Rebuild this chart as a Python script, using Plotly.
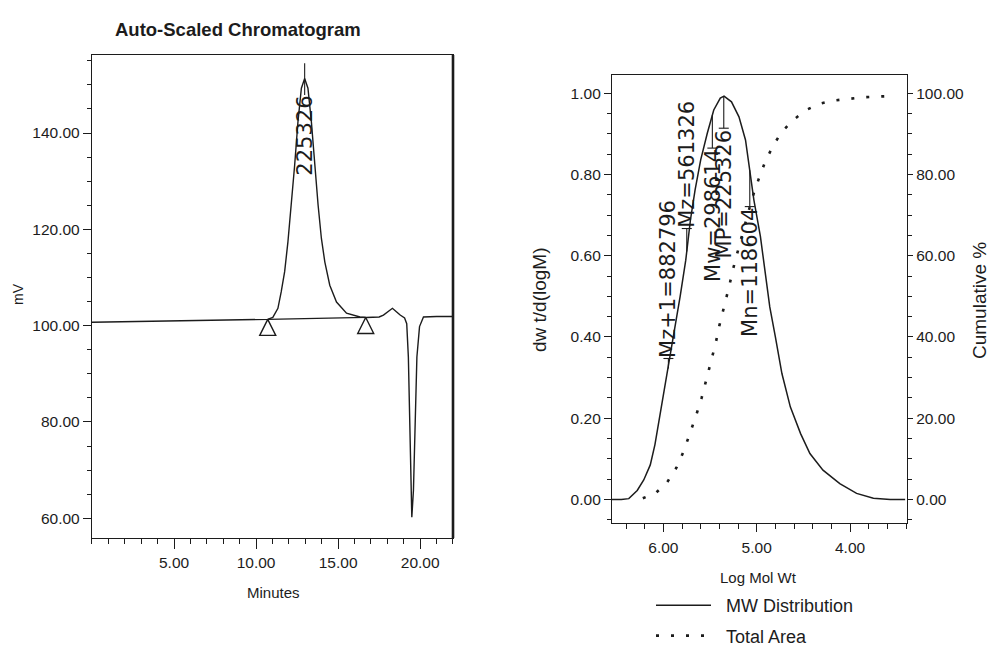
import numpy as np
import plotly.graph_objects as go

# ---------------- data: chromatogram ----------------
chrom_time = [0.0, 2.0, 4.0, 6.0, 8.0, 10.0, 10.7, 11.02, 11.33, 11.53, 11.74, 11.94,
              12.15, 12.35, 12.55, 12.76, 12.96, 13.16, 13.37, 13.57, 13.78, 13.98,
              14.19, 14.49, 14.90, 15.51, 16.33, 16.7, 17.5, 17.76, 18.05, 18.31,
              18.55, 18.78, 19.05, 19.18, 19.28, 19.35, 19.43, 19.49, 19.59, 19.70,
              19.80, 19.96, 20.20, 21.0, 22.0]
chrom_mv = [100.7, 100.8, 100.9, 101.0, 101.1, 101.2, 101.3, 101.7, 103.6, 107.0, 111.2, 117.4,
            125.0, 133.3, 142.3, 149.3, 151.3, 149.3, 142.3, 133.3, 125.0, 118.1,
            113.2, 108.4, 104.9, 102.6, 101.8, 101.7, 101.8, 102.2, 102.9, 103.6,
            102.9, 102.2, 101.6, 100.4, 93.5, 79.7, 65.8, 60.2, 65.8, 79.7,
            93.5, 99.8, 101.8, 101.9, 101.9]
peak_bounds_time = [10.71, 16.68]
peak_bounds_mv = [101.3, 101.7]
peak_label = "225326"
peak_label_top_mv = 147.9
peak_line_top_mv = 154.5
chrom_xticks = [5, 10, 15, 20]
chrom_yticks = [60, 80, 100, 120, 140]

# ---------------- data: MW distribution ----------------
dist_logm = [6.57, 6.45, 6.37, 6.28, 6.21, 6.14, 6.09, 6.05, 6.00, 5.94, 5.88, 5.82,
             5.76, 5.71, 5.66, 5.60, 5.53, 5.46, 5.39, 5.35, 5.27, 5.19, 5.12, 5.08,
             5.03, 4.96, 4.91, 4.86, 4.80, 4.73, 4.64, 4.53, 4.43, 4.29, 4.11, 3.93,
             3.75, 3.57, 3.41]
dist_dwdlogm = [0.0, 0.0, 0.002, 0.022, 0.048, 0.085, 0.135, 0.19, 0.25, 0.33, 0.415, 0.50,
                0.589, 0.688, 0.762, 0.836, 0.901, 0.959, 0.988, 0.993, 0.979, 0.942, 0.885, 0.82,
                0.737, 0.647, 0.557, 0.474, 0.40, 0.31, 0.228, 0.162, 0.113, 0.072, 0.039, 0.015,
                0.003, 0.0, 0.0]
cum_logm = [6.22, 6.08, 5.96, 5.86, 5.78, 5.71, 5.65, 5.59, 5.54, 5.49, 5.44, 5.40,
            5.35, 5.30, 5.25, 5.20, 5.14, 5.08, 5.03, 4.98, 4.91, 4.82, 4.73, 4.61,
            4.47, 4.33, 4.18, 4.02, 3.87, 3.71, 3.55]
cum_pct = [0.3, 1.6, 4.2, 7.8, 12.0, 16.4, 20.6, 25.0, 29.4, 34.0, 38.4, 42.8,
           47.2, 52.0, 57.0, 61.5, 66.5, 71.5, 75.5, 78.8, 83.1, 87.3, 90.5, 93.4,
           95.9, 97.4, 98.2, 98.6, 99.0, 99.2, 99.3]
mw_names = ["Mz+1", "Mz", "Mw", "MP", "Mn"]
mw_values = [882796, 561326, 298614, 225326, 118604]
mwd_xticks = [6, 5, 4]
mwd_yticks = [0.0, 0.2, 0.4, 0.6, 0.8, 1.0]
cum_yticks = [0, 20, 40, 60, 80, 100]
series_names = ["MW Distribution", "Total Area"]

# ---------------- styling ----------------
INK = "#1c1c1c"
SANS = "Liberation Sans, Arial, sans-serif"
LABELFONT = "DejaVu Sans, Liberation Sans, sans-serif"
NBSP = "\u00a0"
H = 655.0

# label layout on the MW plot: (end of text nearest the curve, which side of text)
label_text_end = [0.347, 0.667, 0.865, 0.914, 0.721]
label_anchor = ["bottom", "bottom", "top", "top", "top"]

fig = go.Figure()

# chromatogram
fig.add_trace(go.Scatter(x=chrom_time, y=chrom_mv, mode="lines",
                         line=dict(color=INK, width=1.4), xaxis="x", yaxis="y",
                         showlegend=False, hoverinfo="skip"))
fig.add_trace(go.Scatter(x=peak_bounds_time, y=peak_bounds_mv, mode="lines+markers",
                         line=dict(color=INK, width=1.2),
                         marker=dict(symbol="arrow-up-open", size=16, color=INK,
                                     line=dict(color=INK, width=1.4)),
                         xaxis="x", yaxis="y", showlegend=False, hoverinfo="skip"))

# MW distribution
fig.add_trace(go.Scatter(x=dist_logm, y=dist_dwdlogm, mode="lines",
                         name=NBSP * 2 + series_names[0], legendgroup="a",
                         line=dict(color=INK, width=1.5), xaxis="x2", yaxis="y2"))
fig.add_trace(go.Scatter(x=cum_logm, y=cum_pct, mode="lines",
                         name=NBSP * 2 + series_names[1], legendgroup="b",
                         line=dict(color="#1c1c1c", width=2.6, dash="3px,12px"),
                         xaxis="x2", yaxis="y3"))

axis_common = dict(showline=True, linecolor=INK, linewidth=1.3, ticks="outside",
                   tickwidth=1.2, tickcolor=INK, showgrid=False, zeroline=False,
                   tickfont=dict(family=SANS, size=15.5, color=INK), tickformat=".2f",
                   tickmode="array", automargin=False)

fig.update_layout(
    width=989, height=655, autosize=False, margin=dict(l=0, r=0, t=0, b=0, pad=0),
    paper_bgcolor="white", plot_bgcolor="white",
    xaxis=dict(axis_common, domain=[0.09302, 0.45804], range=[0, 22], anchor="y",
               tickvals=chrom_xticks, ticklen=10, mirror=True, ticklabelstandoff=0,
               minor=dict(dtick=1, tick0=0, ticks="outside", ticklen=5, tickcolor=INK)),
    yaxis=dict(axis_common, domain=[0.17863, 0.91603], range=[55.9, 156.2], anchor="x",
               tickvals=chrom_yticks, ticklen=8, mirror=True,
               minor=dict(dtick=5, tick0=0, ticks="outside", ticklen=4, tickcolor=INK)),
    xaxis2=dict(axis_common, domain=[0.61881, 0.91709], range=[6.55, 3.39], anchor="y2",
                tickvals=mwd_xticks, ticklen=8, mirror=True, ticklabelstandoff=2,
                minor=dict(dtick=0.2, tick0=0, ticks="outside", ticklen=5, tickcolor=INK)),
    yaxis2=dict(axis_common, domain=[0.20153, 0.88550], range=[-0.058, 1.045], anchor="x2",
                tickvals=mwd_yticks, ticklen=7, mirror=True,
                minor=dict(dtick=0.05, tick0=0, ticks="outside", ticklen=4, tickcolor=INK)),
    yaxis3=dict(axis_common, range=[-5.8, 104.5], anchor="x2", overlaying="y2", side="right",
                tickvals=cum_yticks, ticklen=5,
                minor=dict(dtick=5, tick0=0, ticks="outside", ticklen=4, tickcolor=INK)),
    # legend kept fully inside the figure so it never pushes the margins
    legend=dict(x=651/989, y=1-587/H, xanchor="left", yanchor="top",
                bgcolor="rgba(0,0,0,0)", borderwidth=0,
                font=dict(family=SANS, size=18, color=INK), itemwidth=55,
                tracegroupgap=4),
    showlegend=True,
)

annotations = [
    dict(text="Auto-Scaled Chromatogram", xref="paper", yref="paper", x=113/989, y=1-29/H,
         xanchor="left", yanchor="middle", showarrow=False,
         font=dict(family=SANS, size=18.5, color=INK, weight="bold")),
    dict(text="Minutes", xref="paper", yref="paper", x=273/989, y=1-592/H,
         xanchor="center", yanchor="middle",
         showarrow=False, font=dict(family=SANS, size=15, color=INK)),
    dict(text="mV", xref="paper", yref="paper", x=18/989, y=1-294/H, textangle=-90,
         xanchor="center", yanchor="middle",
         showarrow=False, font=dict(family=SANS, size=14, color=INK)),
    dict(text="Log Mol Wt", xref="paper", yref="paper", x=758/989, y=1-577/H,
         xanchor="center", yanchor="middle",
         showarrow=False, font=dict(family=SANS, size=15, color=INK)),
    dict(text="dw t/d(logM)", xref="paper", yref="paper", x=539/989, y=1-300/H, textangle=-90,
         xanchor="center", yanchor="middle",
         showarrow=False, font=dict(family=SANS, size=19, color=INK)),
    dict(text="Cumulative %", xref="paper", yref="paper", x=980/989, y=1-301/H, textangle=-90,
         xanchor="center", yanchor="middle",
         showarrow=False, font=dict(family=SANS, size=19, color=INK)),
]

shapes = []
# chromatogram peak label
peak_idx = int(np.argmax(chrom_mv))
peak_time = chrom_time[peak_idx]
annotations.append(dict(text=peak_label, x=peak_time, y=peak_label_top_mv, xref="x", yref="y",
                        textangle=-90, yanchor="top", xanchor="center", showarrow=False,
                        borderpad=0, font=dict(family=LABELFONT, size=21, color=INK)))
shapes.append(dict(type="line", xref="x", yref="y", x0=peak_time, x1=peak_time,
                   y0=peak_label_top_mv, y1=peak_line_top_mv, line=dict(color=INK, width=1.1)))
# thick right frame of chromatogram
shapes.append(dict(type="line", xref="x domain", yref="y domain", x0=1, x1=1, y0=0, y1=1,
                   line=dict(color=INK, width=2.6)))

# MW average labels
xp = np.array(dist_logm[::-1])
fp = np.array(dist_dwdlogm[::-1])
for name, val, yend, anc in zip(mw_names, mw_values, label_text_end, label_anchor):
    lx = float(np.log10(val))
    curve_h = float(np.interp(lx, xp, fp))
    annotations.append(dict(text=f"{name}={val}", x=lx, y=yend, xref="x2", yref="y2",
                            textangle=-90, yanchor=anc, xanchor="center", showarrow=False,
                            borderpad=0, font=dict(family=LABELFONT, size=21, color=INK)))
    shapes.append(dict(type="line", xref="x2", yref="y2", x0=lx, x1=lx, y0=yend, y1=curve_h,
                       line=dict(color=INK, width=1.1)))
    shapes.append(dict(type="line", xref="x2", yref="y2", xsizemode="pixel", xanchor=lx,
                       x0=-5, x1=5, y0=yend, y1=yend, line=dict(color=INK, width=1.1)))

fig.update_layout(annotations=annotations, shapes=shapes)
fig.write_html("out.html", config={"responsive": False, "displayModeBar": False},
               post_script="document.body.style.margin='0px';")
